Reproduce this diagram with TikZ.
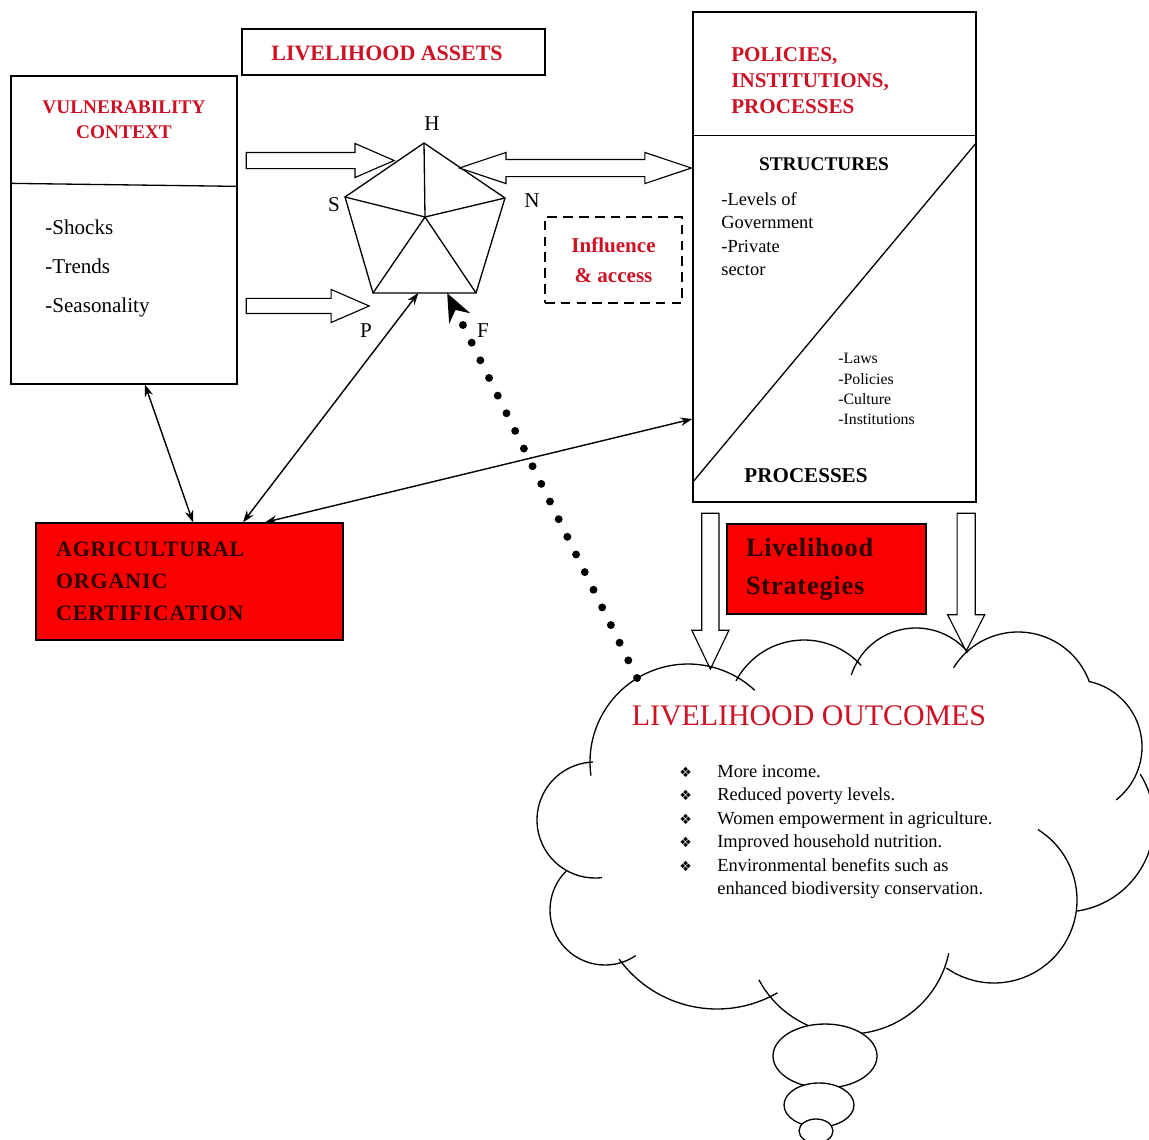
\documentclass[tikz,border=0pt]{standalone}
\usepackage{fontspec}
\setmainfont{Liberation Serif}
\newfontfamily\symfont{DejaVu Sans}
\usetikzlibrary{positioning,arrows.meta,shapes.arrows,calc}

\definecolor{titlered}{RGB}{204,18,36}
\definecolor{boxred}{RGB}{250,0,0}
\definecolor{boxtext}{RGB}{45,0,0}

\newcommand{\cbul}{\makebox[0.76cm][l]{\symfont\fontsize{8}{8}\selectfont ❖}}

\tikzset{
  frame/.style={draw, line width=0.75pt, inner sep=0pt},
  redbox/.style={frame, fill=boxred, text=boxtext},
  outline/.style={line width=0.75pt},
  listtext/.style={anchor=west, align=left, inner sep=0pt},
  blockarrow/.style={single arrow, draw, fill=white, line width=0.65pt,
    inner xsep=0pt, minimum width=0pt, anchor=tail},
  link/.style={line width=0.8pt,
    {Stealth[length=0.24cm,width=0.17cm]}-{Stealth[length=0.24cm,width=0.17cm]}},
  dotline/.style={line width=4.5pt, line cap=round, dash pattern=on 0pt off 11.2pt,
    -{Stealth[length=0.56cm,width=0.46cm]}},
}

\begin{document}
\begin{tikzpicture}[x=0.02cm, y=-0.02cm]
  \useasboundingbox (0,0) rectangle (1149,1139);

  % Define nodes
  \node[frame, minimum width=4.52cm, minimum height=6.16cm] (vuln) at (124,230) {};
  \node[align=center, text=titlered, font=\bfseries\fontsize{11}{14.2}\selectfont]
    (vulnTitle) at (124,119.5) {VULNERABILITY\\CONTEXT};
  \node[listtext, font=\fontsize{12}{22.2}\selectfont]
    (vulnItems) at (45,268) {-Shocks\\-Trends\\-Seasonality};

  \node[frame, minimum width=6.06cm, minimum height=0.92cm] (assets) at (393.5,52) {};
  \node[text=titlered, font=\bfseries\fontsize{12.5}{15}\selectfont]
    (assetsTitle) at (387,53) {LIVELIHOOD ASSETS};

  \node[frame, minimum width=5.66cm, minimum height=9.8cm] (pip) at (834.5,257) {};
  \node[listtext, text=titlered, font=\bfseries\fontsize{12}{15}\selectfont]
    (pipTitle) at (731,80.5) {POLICIES,\\INSTITUTIONS,\\PROCESSES};
  \node[font=\bfseries\fontsize{11}{13}\selectfont] (structHead) at (824,164) {STRUCTURES};
  \node[listtext, font=\fontsize{10.5}{13.2}\selectfont]
    (structList) at (721,234) {-Levels of\\Government\\-Private\\sector};
  \node[listtext, font=\fontsize{9}{11.5}\selectfont]
    (procList) at (838,389) {-Laws\\-Policies\\-Culture\\-Institutions};
  \node[font=\bfseries\fontsize{12}{14}\selectfont] (procHead) at (806,476) {PROCESSES};

  \node[draw, line width=0.7pt, dash pattern=on 5.5pt off 3.5pt, minimum width=2.74cm,
    minimum height=1.72cm, align=center, text=titlered,
    font=\bfseries\fontsize{12}{17}\selectfont] (infl) at (613.5,260) {Influence\\\& access};

  \node[redbox, minimum width=6.14cm, minimum height=2.34cm, text width=5.34cm, align=left,
    font=\bfseries\fontsize{12.5}{18.4}\selectfont\addfontfeature{LetterSpace=4}]
    (aoc) at (189.5,581.5) {AGRICULTURAL\\ORGANIC\\CERTIFICATION};
  \node[redbox, minimum width=3.98cm, minimum height=1.8cm, text width=3.22cm, align=left,
    font=\bfseries\fontsize{15}{21.5}\selectfont\addfontfeature{LetterSpace=3}]
    (strat) at (826.5,569) {Livelihood\\Strategies};

  % Asset pentagon
  \coordinate (pH) at (424,143);
  \coordinate (pS) at (345,197);
  \coordinate (pN) at (505,198);
  \coordinate (pP) at (373,293);
  \coordinate (pF) at (476,293);
  \coordinate (pC) at (425,217);
  \draw[outline] (pH) -- (pN) -- (pF) -- (pP) -- (pS) -- cycle;
  \foreach \v in {pH,pN,pF,pP,pS}
    \draw[outline] (pC) -- (\v);
  \node[font=\fontsize{12}{14}\selectfont] (lblH) at (432,124) {H};
  \node[font=\fontsize{12}{14}\selectfont] (lblS) at (334,205) {S};
  \node[font=\fontsize{12}{14}\selectfont] (lblN) at (532,201) {N};
  \node[font=\fontsize{12}{14}\selectfont] (lblP) at (366,331) {P};
  \node[font=\fontsize{12}{14}\selectfont] (lblF) at (483,331) {F};

  % Box dividers
  \draw[outline] ([yshift=-2.16cm]vuln.north west) -- ([yshift=-2.22cm]vuln.north east);
  \draw[outline] ([yshift=-2.48cm]pip.north west) -- ([yshift=-2.48cm]pip.north east);
  \draw[outline] ([yshift=-2.62cm]pip.north east) -- ([yshift=0.4cm]pip.south west);

  % Block arrows
  \node[blockarrow, minimum height=2.96cm, inner ysep=0.15cm, single arrow head extend=0.18cm,
    single arrow tip angle=47] (arrVulnUp) at ([xshift=0.16cm,yshift=1.39cm]vuln.east) {};
  \node[blockarrow, minimum height=2.46cm, inner ysep=0.14cm, single arrow head extend=0.18cm,
    single arrow tip angle=47] (arrVulnLow) at ([xshift=0.16cm,yshift=-1.52cm]vuln.east) {};
  \node[double arrow, draw, fill=white, line width=0.65pt, inner xsep=0pt, inner ysep=0.16cm,
    minimum width=0pt, minimum height=4.64cm, double arrow head extend=0.14cm,
    double arrow tip angle=37] (arrPip) at ([xshift=-2.34cm,yshift=1.78cm]pip.west) {};
  \node[blockarrow, rotate=-90, minimum height=3.12cm, inner ysep=0.16cm,
    single arrow head extend=0.2cm, single arrow tip angle=51]
    (arrDownL) at ([xshift=0.36cm,yshift=-0.2cm]pip.south west) {};
  \node[blockarrow, rotate=-90, minimum height=2.76cm, inner ysep=0.17cm,
    single arrow head extend=0.19cm, single arrow tip angle=54]
    (arrDownR) at ([xshift=-0.21cm,yshift=-0.2cm]pip.south east) {};

  % Outcomes cloud
  \begin{scope}
    \clip (0,0) rectangle (1149,1139);
    \foreach \cx/\cy/\r/\a/\b in {688/762/98/172/313, 804/717/77/208/318,
        916/696/68/198/320, 1018/708/76/212/340, 1075/747/67/282/412,
        1064/822/90/328/442, 994/900/83/302/485, 849/932/102/12/152,
        717/888/121/60/144, 605/910/55/56/225, 595/820/58/83/268}
      \draw[outline] (\cx,\cy) ++(\a:\r) arc[start angle=\a, end angle=\b, radius=\r];
    \draw[outline, fill=white] (825,1056) ellipse[x radius=52, y radius=32];
    \draw[outline, fill=white] (819,1105) ellipse[x radius=35, y radius=22];
    \draw[outline, fill=white] (816,1131) ellipse[x radius=17, y radius=12];
  \end{scope}
  \coordinate (cloudTop) at (637,678);

  \node[text=titlered, font=\fontsize{17}{20}\selectfont] (outTitle) at (809,716)
    {LIVELIHOOD OUTCOMES};
  \node[listtext, font=\fontsize{10.5}{13.4}\selectfont] (outList) at (679,832)
    {\cbul More income.\\
     \cbul Reduced poverty levels.\\
     \cbul Women empowerment in agriculture.\\
     \cbul Improved household nutrition.\\
     \cbul Environmental benefits such as\\
     \hspace*{0.76cm}enhanced biodiversity conservation.};

  % Connect the nodes
  \coordinate (pLink) at ($(pP)!0.44!(pF)$);
  \coordinate (pDot) at ($(pP)!0.72!(pF)$);
  \draw[link] ([xshift=0.42cm]vuln.south) -- ([xshift=0.07cm]aoc.north);
  \draw[link] ([xshift=1.07cm]aoc.north) -- (pLink);
  \draw[link] ([xshift=1.51cm]aoc.north) -- ([yshift=-3.24cm]pip.west);
  \draw[dotline] (cloudTop) -- (pDot);

\end{tikzpicture}
\end{document}
